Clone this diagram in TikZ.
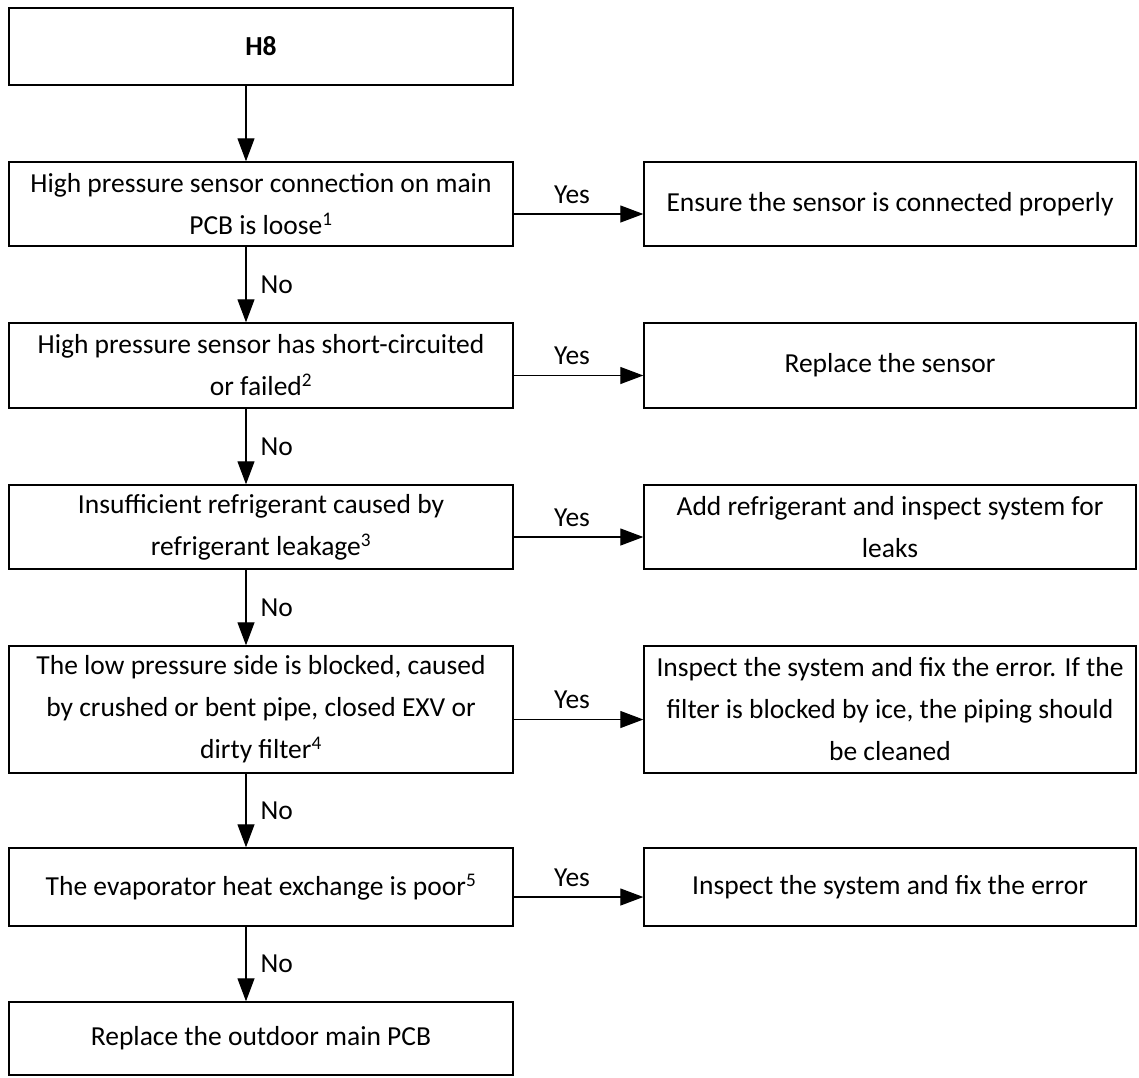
\documentclass[tikz,border=0pt]{standalone}
\usepackage{fontspec}
\setmainfont{Carlito}
\usetikzlibrary{arrows.meta}
\begin{document}
\begin{tikzpicture}[x=1pt,y=-1pt,
  box/.style={draw=black, line width=1.4pt, rectangle, inner sep=0pt, align=center,
    font=\fontsize{27.5}{42}\selectfont},
  lbox/.style={box, minimum width=504pt},
  rbox/.style={box, minimum width=492pt},
  arr/.style={line width=1.2pt, -{Triangle[length=23pt,width=17pt]}},
  lab/.style={font=\fontsize{27.5}{30}\selectfont, inner sep=0pt}]
\useasboundingbox (0,0) rectangle (1139,1077);
% left column
\node[lbox, minimum height=77pt] (h8) at (261,46.5) {\textbf{H8}};
\node[lbox, minimum height=84pt] (q1) at (261,204) {High pressure sensor connection on main\\PCB is loose\textsuperscript{1}};
\node[lbox, minimum height=85pt] (q2) at (261,365.5) {High pressure sensor has short-circuited\\or failed\textsuperscript{2}};
\node[lbox, minimum height=84pt] (q3) at (261,527) {Insufficient refrigerant caused by\\refrigerant leakage\textsuperscript{3}};
\node[lbox, minimum height=127pt] (q4) at (261,709.5) {The low pressure side is blocked, caused\\by crushed or bent pipe, closed EXV or\\dirty filter\textsuperscript{4}};
\node[lbox, minimum height=78pt] (q5) at (261,887) {The evaporator heat exchange is poor\textsuperscript{5}};
\node[lbox, minimum height=73pt] (fin) at (261,1038.5) {Replace the outdoor main PCB};
% right column
\node[rbox, minimum height=84pt] (r1) at (890,204) {Ensure the sensor is connected properly};
\node[rbox, minimum height=85pt] (r2) at (890,365.5) {Replace the sensor};
\node[rbox, minimum height=84pt] (r3) at (890,527) {Add refrigerant and inspect system for\\leaks};
\node[rbox, minimum height=127pt] (r4) at (890,709.5) {Inspect the system and fix the error. If the\\filter is blocked by ice, the piping should\\be cleaned};
\node[rbox, minimum height=78pt] (r5) at (890,887) {Inspect the system and fix the error};
% vertical connectors
\draw[arr] ([xshift=-15pt]h8.south) -- ([xshift=-15pt]q1.north);
\draw[arr] ([xshift=-15pt]q1.south) -- node[lab, midway, right, xshift=14pt]{No} ([xshift=-15pt]q2.north);
\draw[arr] ([xshift=-15pt]q2.south) -- node[lab, midway, right, xshift=14pt]{No} ([xshift=-15pt]q3.north);
\draw[arr] ([xshift=-15pt]q3.south) -- node[lab, midway, right, xshift=14pt]{No} ([xshift=-15pt]q4.north);
\draw[arr] ([xshift=-15pt]q4.south) -- node[lab, midway, right, xshift=14pt]{No} ([xshift=-15pt]q5.north);
\draw[arr] ([xshift=-15pt]q5.south) -- node[lab, midway, right, xshift=14pt]{No} ([xshift=-15pt]fin.north);
% horizontal connectors
\foreach \a/\b in {q1/r1,q2/r2,q3/r3,q4/r4,q5/r5}{
  \draw[arr] ([yshift=-10pt]\a.east) -- node[lab, pos=0.45, above, yshift=10pt]{Yes} ([yshift=-10pt]\b.west);
}
\end{tikzpicture}
\end{document}
